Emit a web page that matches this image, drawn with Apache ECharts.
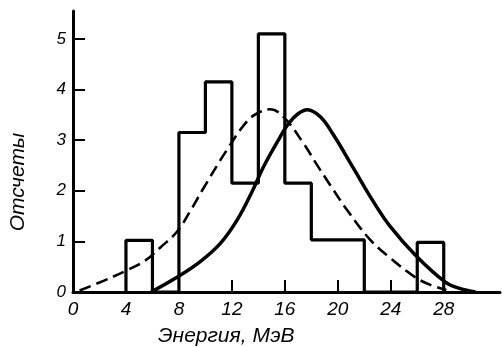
<!DOCTYPE html>
<html>
<head>
<meta charset="utf-8">
<script src="https://cdn.jsdelivr.net/npm/echarts@6/dist/echarts.min.js"></script>
<style>html,body{margin:0;padding:0;background:#fff}#c{width:502px;height:347px}</style>
</head>
<body>
<div id="c"></div>
<script>
// ---- data ----
var xTicks = [0, 4, 8, 12, 16, 20, 24, 28];
var yTicks = [0, 1, 2, 3, 4, 5];
var binEdges = [4, 6, 8, 10, 12, 14, 16, 18, 20, 22, 24, 26, 28];
var counts = [1.02, 0, 3.15, 4.15, 2.15, 5.1, 2.15, 1.03, 1.03, 0, 0, 0.98];
var dashedX = [0.5, 2.3, 4.0, 5.5, 6.6, 7.85, 8.86, 9.74, 11.63, 13.14, 14.0, 14.9, 16.0, 17.42, 18.43, 19.43, 20.7, 22.45, 23.97, 25.8, 26.9, 28.2];
var dashedY = [0.03, 0.22, 0.42, 0.63, 0.88, 1.19, 1.6, 2.0, 2.81, 3.37, 3.54, 3.61, 3.43, 2.93, 2.51, 2.11, 1.62, 1.03, 0.67, 0.3, 0.15, 0.04];
var solidX = [5.9, 7.85, 9.61, 11.13, 12.39, 13.52, 14.4, 15.66, 16.29, 17.0, 17.7, 18.68, 19.68, 21.19, 22.7, 23.97, 25.85, 28.1, 29.2, 30.4];
var solidY = [0, 0.29, 0.6, 0.96, 1.42, 1.98, 2.48, 3.07, 3.33, 3.52, 3.6, 3.46, 3.1, 2.44, 1.78, 1.29, 0.73, 0.2, 0.07, 0.0];
var xName = 'Энергия, МэВ';
var yName = 'Отсчеты';

// histogram outline built from bins
var hist = [];
var prev = 0;
for (var i = 0; i < counts.length; i++) {
  hist.push([binEdges[i], prev]);
  hist.push([binEdges[i], counts[i]]);
  prev = counts[i];
}
hist.push([binEdges[binEdges.length - 1], prev]);
hist.push([binEdges[binEdges.length - 1], 0]);

function zip(a, b) { return a.map(function (v, k) { return [v, b[k]]; }); }

var FONT = 'Liberation Sans';
var chart = echarts.init(document.getElementById('c'), null, {renderer: 'canvas'});
chart.setOption({
  animation: false,
  backgroundColor: '#fff',
  grid: {left: 73, right: 2, top: 11, bottom: 55, containLabel: false},
  xAxis: {
    type: 'value', min: 0, max: 32.25, interval: 4,
    axisLine: {lineStyle: {color: '#000', width: 3}},
    axisTick: {inside: true, length: 12, lineStyle: {color: '#000', width: 2}, customValues: xTicks},
    axisLabel: {customValues: xTicks, color: '#000', fontSize: 19, fontStyle: 'italic', fontFamily: FONT, margin: 8},
    splitLine: {show: false}
  },
  yAxis: {
    type: 'value', min: 0, max: 5.55, interval: 1,
    axisLine: {show: true, lineStyle: {color: '#000', width: 3}},
    axisTick: {show: true, inside: true, length: 12, lineStyle: {color: '#000', width: 2}, customValues: yTicks},
    axisLabel: {customValues: yTicks, color: '#000', fontSize: 17, fontStyle: 'italic', fontFamily: FONT, margin: 7},
    splitLine: {show: false}
  },
  graphic: [
    {type: 'text', left: 158, top: 326, style: {text: xName, fill: '#000', font: 'italic 21px "' + FONT + '"'}},
    {type: 'text', x: 18, y: 182, rotation: Math.PI / 2,
     style: {text: yName, fill: '#000', font: 'italic 21px "' + FONT + '"', align: 'center', verticalAlign: 'middle'}}
  ],
  series: [
    {type: 'line', data: hist, symbol: 'none', lineStyle: {color: '#000', width: 3.2}, z: 3},
    {type: 'line', data: zip(dashedX, dashedY), symbol: 'none', smooth: 0.4,
     lineStyle: {color: '#000', width: 2.6, type: [12, 6]}, z: 4},
    {type: 'line', data: zip(solidX, solidY), symbol: 'none', smooth: 0.4,
     lineStyle: {color: '#000', width: 3.5}, z: 5}
  ]
});
</script>
</body>
</html>
